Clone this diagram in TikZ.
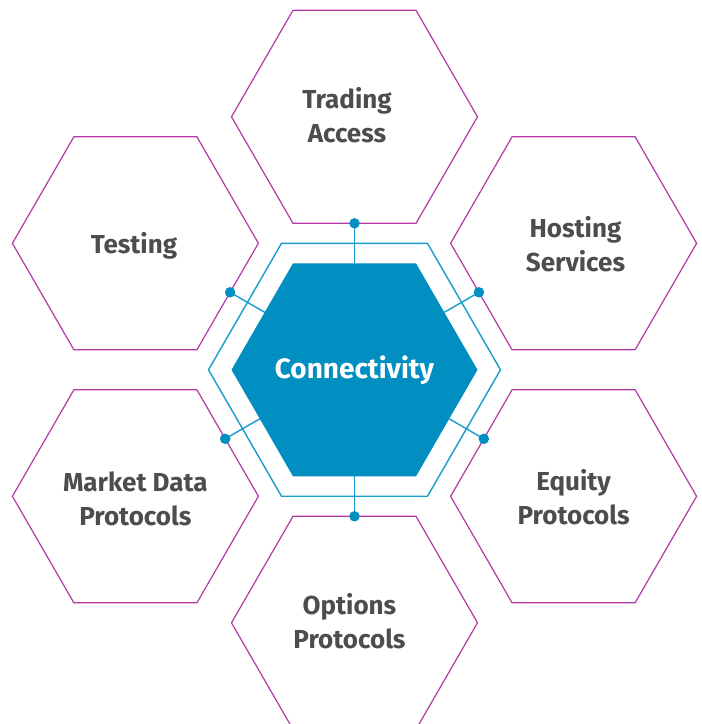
\documentclass[tikz,border=0pt]{standalone}
\usepackage{fontspec}
\setmainfont{Fira Sans}
\usetikzlibrary{shapes.geometric,calc}
\definecolor{cblue}{RGB}{0,143,192}
\definecolor{lblue}{RGB}{22,156,204}
\definecolor{cpurple}{RGB}{180,56,165}
\definecolor{tgray}{RGB}{77,77,79}
\begin{document}
\begin{tikzpicture}[x=1pt,y=-1pt,
  hex/.style={regular polygon, regular polygon sides=6, minimum size=246pt, inner sep=0pt, outer sep=0pt},
  outerhex/.style={hex, draw=cpurple, line width=1.2pt},
  ringhex/.style={hex, minimum size=292pt, draw=lblue, line width=1.4pt},
  corehex/.style={hex, fill=cblue},
  lbl/.style={font=\fontsize{26}{34}\selectfont\bfseries, text=tgray, align=center},
  corelbl/.style={font=\fontsize{28}{34}\selectfont\bfseries, text=white, align=center},
  link/.style={draw=lblue, line width=1.4pt},
  dot/.style={circle, fill=cblue, minimum size=10.5pt, inner sep=0pt, outer sep=0pt}]
\useasboundingbox (0,0) rectangle (702,724);
\clip (0,0) rectangle (702,724);
% outer hexagons
\node[outerhex] (trading) at (354.5,116.8) {};
\node[outerhex] (testing) at (135.4,243.3) {};
\node[outerhex] (hosting) at (573.6,243.3) {};
\node[outerhex] (market)  at (135.4,496.3) {};
\node[outerhex] (equity)  at (573.6,496.3) {};
\node[outerhex] (options) at (354.5,622.8) {};
% ring and core
\node[ringhex] (ring) at (354.5,369.8) {};
\node[hex] (core) at (354.5,369.8) {};
% dot positions
\coordinate (dT) at ($(testing)+(94.7,49)$);
\coordinate (cT) at ($(core)+(-89.8,-57.5)$);
\coordinate (dH) at ($(hosting)+(-94.7,49)$);
\coordinate (cH) at ($(core)+(89.8,-57.5)$);
\coordinate (dM) at ($(market)+(89.8,-57.5)$);
\coordinate (cM) at ($(core)+(-94.7,49)$);
\coordinate (dE) at ($(equity)+(-89.8,-57.5)$);
\coordinate (cE) at ($(core)+(94.7,49)$);
% connectors
\draw[link] (trading.south) -- (core.north);
\draw[link] (options.north) -- (core.south);
\draw[link] (dT) -- (cT);
\draw[link] (dH) -- (cH);
\draw[link] (dM) -- (cM);
\draw[link] (dE) -- (cE);
% core fill
\node[corehex] (corefill) at (354.5,369.8) {};
\node[corelbl] (corelabel) at (354.5,370.5) {Connectivity};
% dots
\node[dot] (pTr) at (trading.south) {};
\node[dot] (pOp) at (options.north) {};
\node[dot] (pTe) at (dT) {};
\node[dot] (pHo) at (dH) {};
\node[dot] (pMa) at (dM) {};
\node[dot] (pEq) at (dE) {};
% labels
\node[lbl] (ltrading) at (347,115) {Trading\\Access};
\node[lbl] (ltesting) at (134,246) {Testing};
\node[lbl] (lhosting) at (575.5,244) {Hosting\\Services};
\node[lbl] (lmarket)  at (135.3,499) {Market Data\\Protocols};
\node[lbl] (lequity)  at (573.6,497) {Equity\\Protocols};
\node[lbl] (loptions) at (349.5,621) {Options\\Protocols};
\end{tikzpicture}
\end{document}
